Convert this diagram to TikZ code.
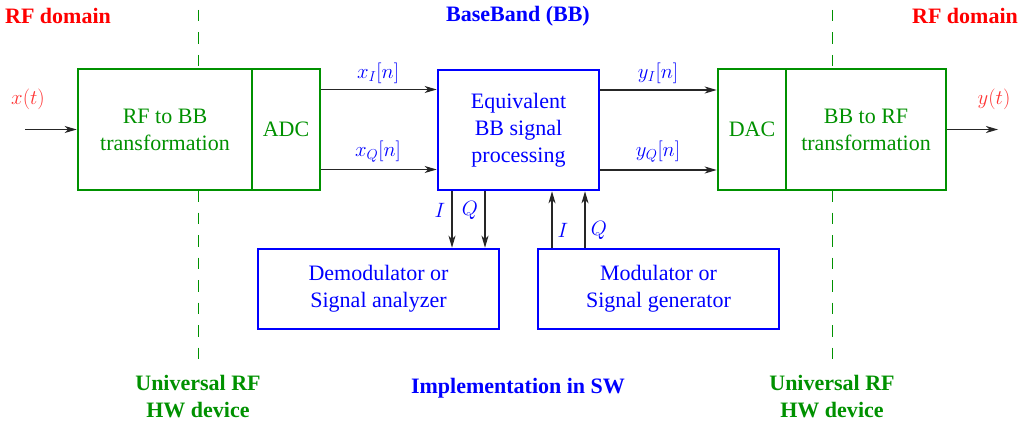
\documentclass[tikz,border=0pt]{standalone}
\usepackage{fontspec}
\setmainfont{Liberation Serif}
\usetikzlibrary{arrows.meta,calc}
\definecolor{fgreen}{RGB}{0,145,0}
\definecolor{fred}{RGB}{255,0,0}
\definecolor{fblue}{RGB}{0,0,255}
\begin{document}
\begin{tikzpicture}[x=1pt,y=-1pt,
  boxtext/.style={align=center,inner sep=0pt,font=\fontsize{22}{27}\selectfont},
  gbox/.style={boxtext,draw=fgreen,line width=2.6pt,fill=white,text=fgreen,minimum height=121pt},
  bbox/.style={boxtext,draw=fblue,line width=2.6pt,fill=white,text=fblue},
  arr/.style={-{Stealth[length=12pt,width=7pt,inset=3.5pt]},line width=1.1pt,draw=black!85},
  mlab/.style={text=fblue,inner sep=0pt,font=\fontsize{22}{26}\selectfont},
  rlab/.style={text=fred!80,inner sep=0pt,font=\fontsize{22}{26}\selectfont},
  title/.style={inner sep=0pt,align=center,font=\fontsize{22}{27}\selectfont\bfseries},
  divider/.style={draw=fgreen,line width=1pt,dash pattern=on 11.5pt off 11pt}]
\useasboundingbox (0,0) rectangle (1022,425);
% dashed dividers
\coordinate (d1t) at (198,10);
\coordinate (d1b) at (198,359);
\coordinate (d2t) at (832,10);
\coordinate (d2b) at (832,359);
\draw[divider] (d1t) -- (d1b);
\draw[divider] (d2t) -- (d2b);
% boxes
\node[gbox,minimum width=174pt] (rf2bb) at (165,129.5) {RF to BB\\transformation};
\node[gbox,minimum width=68pt] (adc) at (286,129.5) {ADC};
\node[bbox,minimum width=161pt,minimum height=120pt] (bb) at (518.5,130) {Equivalent\\BB signal\\processing};
\node[gbox,minimum width=68pt] (dac) at (752,129.5) {DAC};
\node[gbox,minimum width=160pt] (bb2rf) at (866,129.5) {BB to RF\\transformation};
\node[bbox,minimum width=241pt,minimum height=80pt] (demod) at (378.5,289) {Demodulator or\\Signal analyzer};
\node[bbox,minimum width=241pt,minimum height=80pt] (mod) at (658.5,289) {Modulator or\\Signal generator};
% titles
\node[title,text=fred] (rfl) at (58,16) {RF domain};
\node[title,text=fblue] (bbt) at (518,16) {BaseBand (BB)};
\node[title,text=fred] (rfr) at (965,16) {RF domain};
\node[title,text=fgreen] (hwl) at (198,397) {Universal RF\\HW device};
\node[title,text=fblue] (sw) at (518,388) {Implementation in SW};
\node[title,text=fgreen] (hwr) at (832,397) {Universal RF\\HW device};
% input / output
\coordinate (in) at (25,129.5);
\coordinate (out) at (998,129.5);
\draw[arr] (in) -- (rf2bb.west);
\draw[arr] (bb2rf.east) -- (out);
\node[rlab] (xt) at (28,99) {$x(t)$};
\node[rlab] (yt) at (994,99) {$y(t)$};
% I/Q streams
\draw[arr] ([yshift=40pt]adc.east) -- ([yshift=40pt]adc.east -| bb.west);
\draw[arr] ([yshift=-40pt]adc.east) -- ([yshift=-40pt]adc.east -| bb.west);
\draw[arr] ([yshift=40pt]bb.east) -- ([yshift=40pt]bb.east -| dac.west);
\draw[arr] ([yshift=-40pt]bb.east) -- ([yshift=-40pt]bb.east -| dac.west);
\node[mlab] (xi) at (378,73) {$x_I[n]$};
\node[mlab] (xq) at (378,152) {$x_Q[n]$};
\node[mlab] (yi) at (658,73) {$y_I[n]$};
\node[mlab] (yq) at (658,152) {$y_Q[n]$};
% to demodulator / from modulator
\draw[arr] ([xshift=-66.5pt]bb.south) -- ([xshift=-66.5pt]bb.south |- demod.north);
\draw[arr] ([xshift=-33.5pt]bb.south) -- ([xshift=-33.5pt]bb.south |- demod.north);
\draw[arr] ([xshift=33.5pt]bb.south |- mod.north) -- ([xshift=33.5pt]bb.south);
\draw[arr] ([xshift=66.5pt]bb.south |- mod.north) -- ([xshift=66.5pt]bb.south);
\node[mlab] (di) at (440,210) {$I$};
\node[mlab] (dq) at (470,210) {$Q$};
\node[mlab] (mi) at (563,230) {$I$};
\node[mlab] (mq) at (599,230) {$Q$};
\end{tikzpicture}
\end{document}
